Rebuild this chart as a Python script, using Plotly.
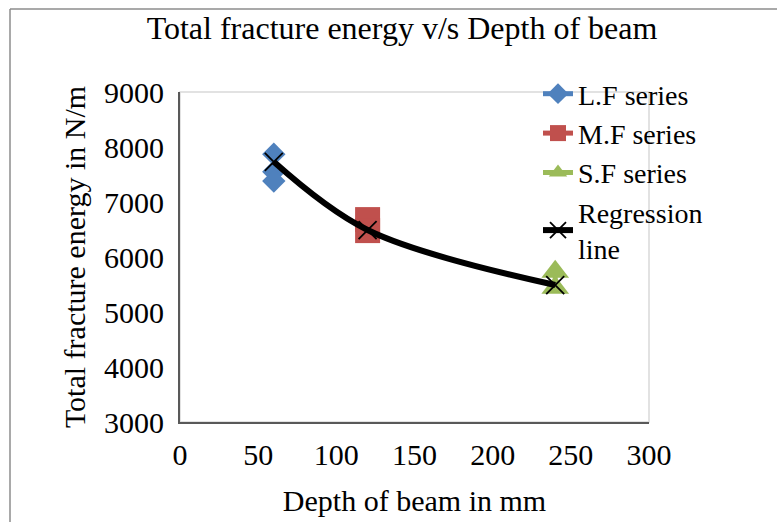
import plotly.graph_objects as go

# Data
lf_x = [60, 60, 60]
lf_y = [7870, 7550, 7380]
mf_x = [120, 120]
mf_y = [6680, 6480]
sf_x = [240, 240]
sf_y = [5730, 5440]
reg_x = [60, 120, 240]
reg_y = [7730, 6490, 5490]

x_ticks = [0, 50, 100, 150, 200, 250, 300]
y_ticks = [3000, 4000, 5000, 6000, 7000, 8000, 9000]

FONT = "Liberation Serif"
W, H = 777, 522
L, R, T, B = 180, 128, 92, 100
pw, ph = W - L - R, H - T - B

def px(xp):
    return (xp - L) / pw

def py(yp):
    return (H - B - yp) / ph

fig = go.Figure()
fig.add_trace(go.Scatter(x=lf_x, y=lf_y, mode="lines+markers", name="L.F series",
                         line=dict(color="#4F81BD", width=5),
                         marker=dict(symbol="diamond", size=18, color="#4F81BD")))
fig.add_trace(go.Scatter(x=mf_x, y=mf_y, mode="lines+markers", name="M.F series",
                         line=dict(color="#C0504D", width=5),
                         marker=dict(symbol="square", size=25, color="#C0504D")))
fig.add_trace(go.Scatter(x=sf_x, y=sf_y, mode="lines+markers", name="S.F series",
                         line=dict(color="#9BBB59", width=5),
                         marker=dict(symbol="triangle-up", size=24, color="#9BBB59")))
fig.add_trace(go.Scatter(x=reg_x, y=reg_y, mode="lines+markers", name="Regression<br>line",
                         line=dict(color="black", width=6, shape="spline", smoothing=1),
                         marker=dict(symbol="x-thin", size=18, color="black",
                                     line=dict(color="black", width=1.8))))

fig.update_layout(
    width=W, height=H,
    margin=dict(l=L, r=R, t=T, b=B),
    paper_bgcolor="white", plot_bgcolor="white",
    font=dict(family=FONT, size=30, color="black"),
    title=dict(text="Total fracture energy v/s Depth of beam", x=402 / W,
               xanchor="center", y=1 - 28 / H, yanchor="middle",
               font=dict(family=FONT, size=32, color="black")),
    showlegend=True,
    legend=dict(x=px(538), y=py(69), xanchor="left", yanchor="top",
                bgcolor="rgba(0,0,0,0)", font=dict(family=FONT, size=28),
                itemwidth=30, tracegroupgap=0),
    xaxis=dict(range=[0, 300], tickvals=x_ticks, ticktext=[str(v) for v in x_ticks],
               showgrid=False, zeroline=False, showline=True, linecolor="#595959",
               linewidth=2, ticks="", ticklabelstandoff=5, automargin=False,
               title=dict(text="Depth of beam in mm", standoff=20,
                          font=dict(family=FONT, size=30))),
    yaxis=dict(range=[3000, 9000], tickvals=y_ticks, ticktext=[str(v) for v in y_ticks],
               showgrid=False, zeroline=False, showline=True, linecolor="#595959",
               linewidth=2, ticks="", ticklabelstandoff=8, automargin=False,
               title=dict(text="Total fracture energy in N/m", standoff=10,
                          font=dict(family=FONT, size=30))),
    shapes=[
        dict(type="rect", xref="paper", yref="paper", x0=0, x1=1, y0=0, y1=1,
             line=dict(color="#D9D9D9", width=1.5), layer="below"),
        dict(type="line", xref="paper", yref="paper", x0=px(10), x1=px(777), y0=py(9), y1=py(9),
             line=dict(color="#8C8C8C", width=1.5)),
        dict(type="line", xref="paper", yref="paper", x0=px(10), x1=px(10), y0=py(9), y1=py(522),
             line=dict(color="#8C8C8C", width=1.5)),
    ],
)

fig.write_html("out.html", post_script="document.body.style.overflow='hidden';")
